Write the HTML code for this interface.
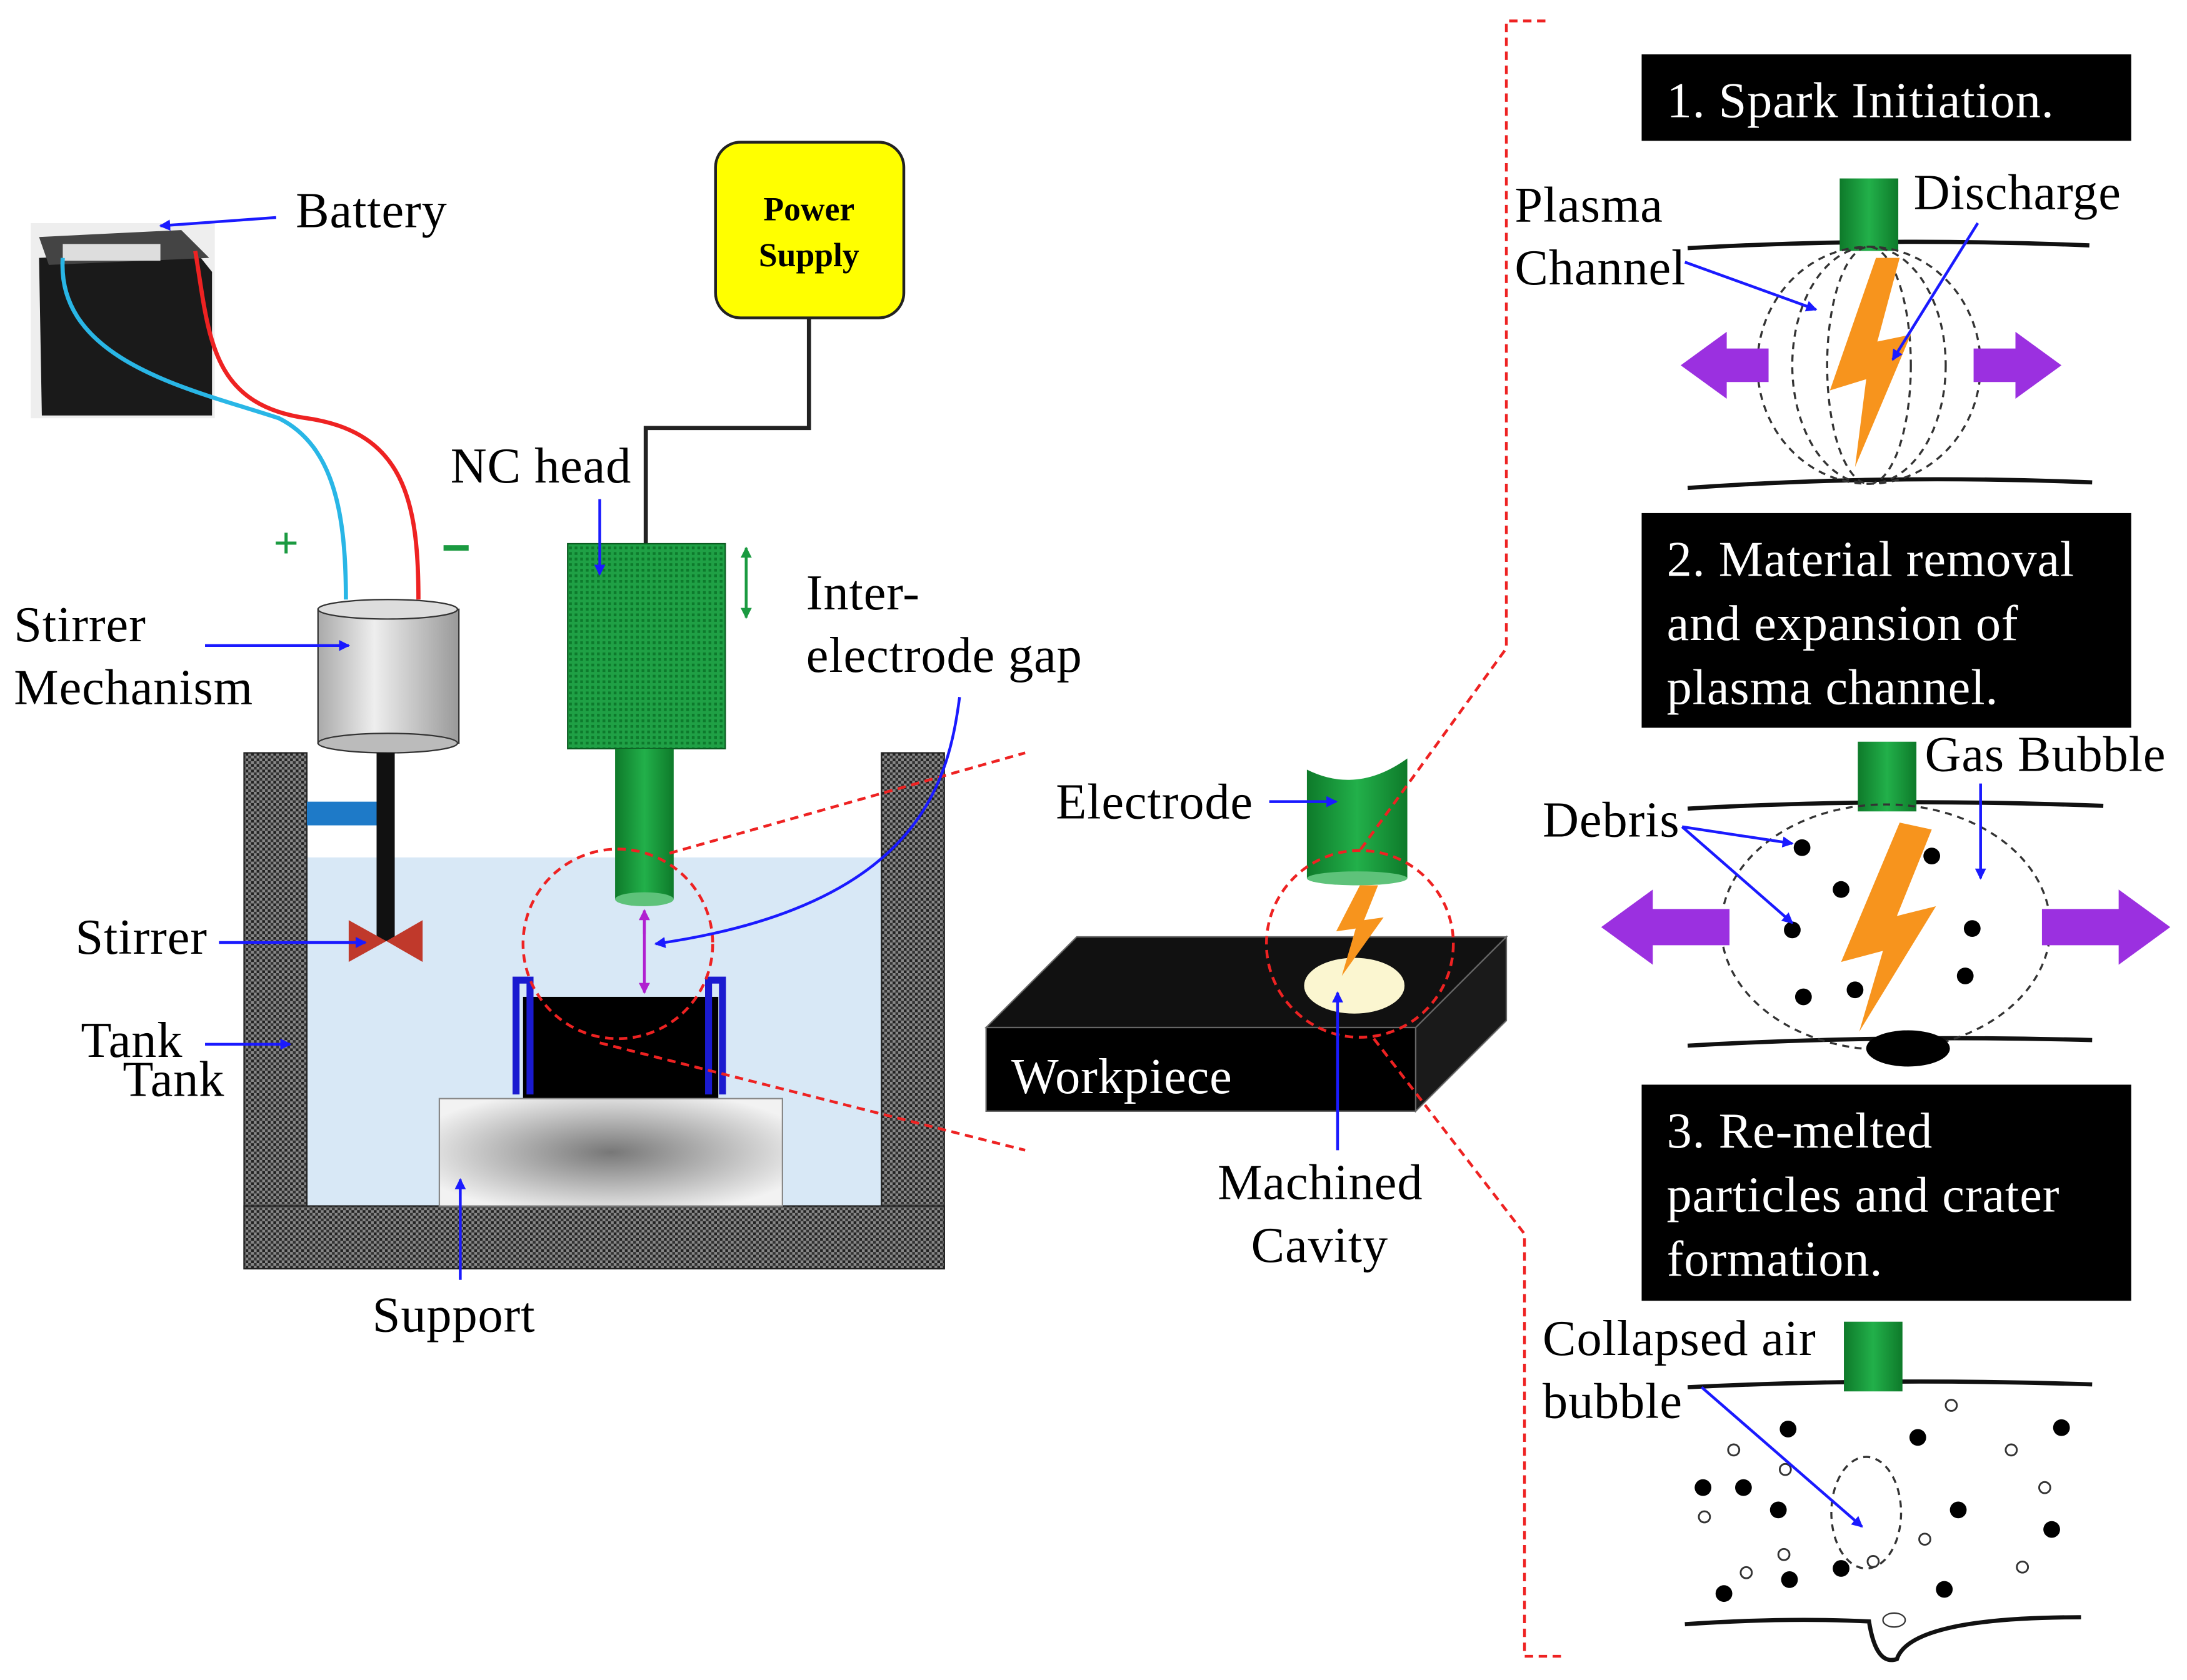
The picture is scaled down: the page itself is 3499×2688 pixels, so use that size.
<!DOCTYPE html>
<html><head><meta charset="utf-8"><style>
html,body{margin:0;padding:0;background:#fff;}
svg{display:block;}
text{font-family:"Liberation Serif",serif;}
.l{font-size:36px;letter-spacing:0.4px;}
</style></head><body>
<svg width="3499" height="2688" viewBox="0 0 1568 1205" preserveAspectRatio="none" xmlns="http://www.w3.org/2000/svg">
<defs>
<pattern id="hatch" width="4" height="4" patternUnits="userSpaceOnUse"><rect width="4" height="4" fill="#888"/><rect width="2" height="2" fill="#222"/><rect x="2" y="2" width="2" height="2" fill="#333"/></pattern>
<pattern id="grn" width="4" height="4" patternUnits="userSpaceOnUse"><rect width="4" height="4" fill="#1fa045"/><rect width="2" height="2" fill="#0d7a2c"/></pattern>
<radialGradient id="sup" cx="0.5" cy="0.5" r="0.6"><stop offset="0" stop-color="#777"/><stop offset="1" stop-color="#f2f2f2"/></radialGradient>
<linearGradient id="cyl" x1="0" x2="1"><stop offset="0" stop-color="#aaa"/><stop offset="0.4" stop-color="#eee"/><stop offset="1" stop-color="#999"/></linearGradient>
<linearGradient id="ecyl" x1="0" x2="1"><stop offset="0" stop-color="#0e7a2a"/><stop offset="0.5" stop-color="#22b04a"/><stop offset="1" stop-color="#0e7a2a"/></linearGradient>
<marker id="ab" markerWidth="8" markerHeight="8" refX="7" refY="4" orient="auto" markerUnits="userSpaceOnUse"><path d="M0,0 L8,4 L0,8 z" fill="#1a1aff"/></marker>
<marker id="ap" markerWidth="8" markerHeight="8" refX="7" refY="4" orient="auto" markerUnits="userSpaceOnUse"><path d="M0,0 L8,4 L0,8 z" fill="#b020d0"/></marker>
<marker id="ag" markerWidth="8" markerHeight="8" refX="7" refY="4" orient="auto" markerUnits="userSpaceOnUse"><path d="M0,0 L8,4 L0,8 z" fill="#1a9a40"/></marker>
</defs>
<rect width="1568" height="1205" fill="#fff"/>

<!-- Battery -->
<rect x="22" y="160" width="132" height="140" fill="#eee"/>
<path d="M28,185 L140,180 L152,195 L152,298 L30,298 Z" fill="#1a1a1a"/>
<path d="M28,170 L130,165 L150,185 L35,190 Z" fill="#444"/>
<rect x="45" y="175" width="70" height="12" fill="#ddd"/>
<path d="M45,185 C40,260 140,280 200,300 C240,320 248,370 248,430" fill="none" stroke="#29b6e6" stroke-width="3"/>
<path d="M140,180 C150,240 150,290 220,300 C290,310 300,360 300,430" fill="none" stroke="#e22" stroke-width="3"/>
<text x="196" y="400" font-size="32" font-weight="bold" fill="#1a9a40" font-family="Liberation Sans,sans-serif">+</text>
<rect x="318" y="391" width="18" height="4" fill="#1a9a40"/>
<text class="l" x="212" y="163">Battery</text>
<line x1="198" y1="156" x2="115" y2="162" stroke="#1a1aff" stroke-width="2" marker-end="url(#ab)"/>

<!-- Power supply -->
<rect x="513" y="102" width="135" height="126" rx="18" fill="#ffff00" stroke="#222" stroke-width="2"/>
<text x="580" y="158" font-size="24" font-weight="bold" text-anchor="middle">Power</text>
<text x="580" y="191" font-size="24" font-weight="bold" text-anchor="middle">Supply</text>
<polyline points="580,228 580,307 463,307 463,390" fill="none" stroke="#222" stroke-width="3"/>

<!-- Tank -->
<rect x="220" y="615" width="412" height="250" fill="#d8e8f6"/>
<rect x="175" y="540" width="45" height="370" fill="url(#hatch)" stroke="#222"/>
<rect x="632" y="540" width="45" height="370" fill="url(#hatch)" stroke="#222"/>
<rect x="175" y="865" width="502" height="45" fill="url(#hatch)" stroke="#222"/>

<!-- Stirrer -->
<rect x="228" y="437" width="101" height="96" fill="url(#cyl)" stroke="#333"/>
<ellipse cx="278" cy="437" rx="50" ry="7" fill="#ddd" stroke="#333"/>
<ellipse cx="278" cy="533" rx="50" ry="7" fill="#bbb" stroke="#333"/>
<rect x="220" y="575" width="50" height="17" fill="#1e7ac8"/>
<rect x="270" y="540" width="13" height="135" fill="#111"/>
<path d="M250,660 L277,675 L250,690 Z M303,660 L277,675 L303,690 Z" fill="#c0392b"/>

<!-- NC head -->
<rect x="407" y="390" width="113" height="147" fill="url(#grn)" stroke="#0a5a20"/>
<rect x="441" y="537" width="42" height="108" fill="url(#ecyl)"/>
<ellipse cx="462" cy="645" rx="21" ry="5" fill="#5ec27a"/>
<line x1="535" y1="398" x2="535" y2="443" stroke="#1a9a40" stroke-width="2" marker-end="url(#ag)"/>
<line x1="535" y1="436" x2="535" y2="393" stroke="#1a9a40" stroke-width="2" marker-end="url(#ag)"/>
<line x1="462" y1="670" x2="462" y2="653" stroke="#b020d0" stroke-width="2" marker-end="url(#ap)"/>
<line x1="462" y1="660" x2="462" y2="712" stroke="#b020d0" stroke-width="2" marker-end="url(#ap)"/>

<!-- Workpiece in tank -->
<rect x="375" y="715" width="140" height="73" fill="#000"/>
<path d="M370,785 L370,703 L380,703 L380,785" fill="none" stroke="#1a1ad0" stroke-width="5"/>
<path d="M518,785 L518,703 L508,703 L508,785" fill="none" stroke="#1a1ad0" stroke-width="5"/>
<rect x="315" y="788" width="246" height="77" fill="url(#sup)" stroke="#888"/>

<circle cx="443" cy="677" r="68" fill="none" stroke="#e22" stroke-width="2" stroke-dasharray="6,4"/>
<line x1="480" y1="612" x2="735" y2="540" stroke="#e22" stroke-width="2" stroke-dasharray="6,4"/>
<line x1="430" y1="748" x2="735" y2="825" stroke="#e22" stroke-width="2" stroke-dasharray="6,4"/>

<!-- Left labels -->
<text class="l" x="323" y="346">NC head</text>
<line x1="430" y1="358" x2="430" y2="412" stroke="#1a1aff" stroke-width="2" marker-end="url(#ab)"/>
<text class="l" x="10" y="460">Stirrer</text>
<text class="l" x="10" y="505">Mechanism</text>
<line x1="147" y1="463" x2="250" y2="463" stroke="#1a1aff" stroke-width="2" marker-end="url(#ab)"/>
<text class="l" x="54" y="684">Stirrer</text>
<line x1="157" y1="676" x2="262" y2="676" stroke="#1a1aff" stroke-width="2" marker-end="url(#ab)"/>
<text class="l" x="58" y="758">Tank</text>
<text class="l" x="88" y="786">Tank</text>
<line x1="147" y1="749" x2="208" y2="749" stroke="#1a1aff" stroke-width="2" marker-end="url(#ab)"/>
<text class="l" x="578" y="437">Inter-</text>
<text class="l" x="578" y="482">electrode gap</text>
<path d="M688,500 C680,560 660,650 470,677" fill="none" stroke="#1a1aff" stroke-width="2" marker-end="url(#ab)"/>
<text class="l" x="267" y="955">Support</text>
<line x1="330" y1="918" x2="330" y2="846" stroke="#1a1aff" stroke-width="2" marker-end="url(#ab)"/>

<!-- Middle workpiece -->
<path d="M707,737 L772,672 L1080,672 L1015,737 Z" fill="#111" stroke="#666"/>
<rect x="707" y="737" width="308" height="60" fill="#000" stroke="#666"/>
<path d="M1015,737 L1080,672 L1080,732 L1015,797 Z" fill="#1a1a1a" stroke="#666"/>
<text class="l" x="725" y="784" fill="#fff">Workpiece</text>
<ellipse cx="971" cy="707" rx="36" ry="20" fill="#fbf6d0"/>
<path d="M937,552 Q973,570 1009,544 L1009,630 L937,630 Z" fill="url(#ecyl)"/>
<ellipse cx="973" cy="630" rx="36" ry="5" fill="#5ec27a"/>
<path d="M975,635 L958,668 L972,666 L962,700 L992,658 L978,660 L988,635 Z" fill="#f7941d"/>
<circle cx="975" cy="677" r="67" fill="none" stroke="#e22" stroke-width="2" stroke-dasharray="6,4"/>
<text class="l" x="757" y="587">Electrode</text>
<line x1="910" y1="575" x2="958" y2="575" stroke="#1a1aff" stroke-width="2" marker-end="url(#ab)"/>
<text class="l" x="873" y="860">Machined</text>
<text class="l" x="897" y="905">Cavity</text>
<line x1="959" y1="825" x2="959" y2="712" stroke="#1a1aff" stroke-width="2" marker-end="url(#ab)"/>

<!-- Red bracket -->
<polyline points="1108,15 1080,15 1080,465 975,610" fill="none" stroke="#e22" stroke-width="2" stroke-dasharray="6,4"/>
<polyline points="985,745 1093,885 1093,1188 1122,1188" fill="none" stroke="#e22" stroke-width="2" stroke-dasharray="6,4"/>

<!-- Right panel boxes -->
<rect x="1177" y="39" width="351" height="62" fill="#000"/>
<text class="l" x="1195" y="84" fill="#fff">1. Spark Initiation.</text>
<rect x="1177" y="368" width="351" height="154" fill="#000"/>
<text class="l" x="1195" y="413" fill="#fff">2. Material removal</text>
<text class="l" x="1195" y="459" fill="#fff">and expansion of</text>
<text class="l" x="1195" y="505" fill="#fff">plasma channel.</text>
<rect x="1177" y="778" width="351" height="155" fill="#000"/>
<text class="l" x="1195" y="823" fill="#fff">3. Re-melted</text>
<text class="l" x="1195" y="869" fill="#fff">particles and crater</text>
<text class="l" x="1195" y="915" fill="#fff">formation.</text>

<!-- Panel 1 -->
<path d="M1210,178 Q1350,170 1498,176" fill="none" stroke="#111" stroke-width="3"/>
<path d="M1210,350 Q1350,340 1500,346" fill="none" stroke="#111" stroke-width="3"/>
<rect x="1319" y="128" width="42" height="52" fill="url(#ecyl)"/>
<g fill="none" stroke="#333" stroke-dasharray="5,4" stroke-width="1.5">
<ellipse cx="1340" cy="262" rx="80" ry="85"/>
<ellipse cx="1340" cy="262" rx="55" ry="85"/>
<ellipse cx="1340" cy="262" rx="30" ry="85"/>
</g>
<path d="M1345,185 L1312,280 L1338,272 L1330,335 L1370,240 L1346,245 L1362,185 Z" fill="#f7941d"/>
<path d="M1205,262 L1238,238 L1238,250 L1268,250 L1268,274 L1238,274 L1238,286 Z" fill="#9b30e0"/>
<path d="M1478,262 L1445,238 L1445,250 L1415,250 L1415,274 L1445,274 L1445,286 Z" fill="#9b30e0"/>
<text class="l" x="1086" y="159">Plasma</text>
<text class="l" x="1086" y="204">Channel</text>
<text class="l" x="1372" y="150">Discharge</text>
<line x1="1208" y1="188" x2="1302" y2="222" stroke="#1a1aff" stroke-width="2" marker-end="url(#ab)"/>
<line x1="1418" y1="160" x2="1357" y2="258" stroke="#1a1aff" stroke-width="2" marker-end="url(#ab)"/>

<!-- Panel 2 -->
<path d="M1210,580 Q1350,572 1508,578" fill="none" stroke="#111" stroke-width="3"/>
<path d="M1210,750 Q1350,742 1500,746" fill="none" stroke="#111" stroke-width="3"/>
<rect x="1332" y="532" width="42" height="50" fill="url(#ecyl)"/>
<ellipse cx="1352" cy="665" rx="118" ry="88" fill="none" stroke="#333" stroke-dasharray="5,4" stroke-width="1.5"/>
<ellipse cx="1368" cy="752" rx="30" ry="13" fill="#000"/>
<path d="M1362,590 L1320,690 L1350,682 L1333,740 L1388,650 L1360,657 L1385,595 Z" fill="#f7941d"/>
<path d="M1148,665 L1185,638 L1185,652 L1240,652 L1240,678 L1185,678 L1185,692 Z" fill="#9b30e0"/>
<path d="M1556,665 L1519,638 L1519,652 L1464,652 L1464,678 L1519,678 L1519,692 Z" fill="#9b30e0"/>
<g fill="#000">
<circle cx="1292" cy="608" r="6"/><circle cx="1385" cy="614" r="6"/><circle cx="1320" cy="638" r="6"/>
<circle cx="1285" cy="667" r="6"/><circle cx="1414" cy="666" r="6"/><circle cx="1409" cy="700" r="6"/>
<circle cx="1293" cy="715" r="6"/><circle cx="1330" cy="710" r="6"/>
</g>
<text class="l" x="1106" y="600">Debris</text>
<text class="l" x="1380" y="553">Gas Bubble</text>
<line x1="1206" y1="593" x2="1285" y2="605" stroke="#1a1aff" stroke-width="2" marker-end="url(#ab)"/>
<line x1="1206" y1="593" x2="1285" y2="662" stroke="#1a1aff" stroke-width="2" marker-end="url(#ab)"/>
<line x1="1420" y1="562" x2="1420" y2="630" stroke="#1a1aff" stroke-width="2" marker-end="url(#ab)"/>

<!-- Panel 3 -->
<path d="M1210,995 Q1350,988 1500,993" fill="none" stroke="#111" stroke-width="3"/>
<path d="M1208,1165 Q1280,1160 1340,1163 Q1345,1195 1360,1190 Q1370,1160 1492,1160" fill="none" stroke="#111" stroke-width="3"/>
<rect x="1322" y="948" width="42" height="50" fill="url(#ecyl)"/>
<ellipse cx="1338" cy="1085" rx="25" ry="40" fill="none" stroke="#333" stroke-dasharray="5,4" stroke-width="1.5"/>
<ellipse cx="1358" cy="1162" rx="8" ry="5" fill="none" stroke="#333"/>
<g fill="#000">
<circle cx="1282" cy="1025" r="6"/><circle cx="1375" cy="1031" r="6"/><circle cx="1478" cy="1024" r="6"/>
<circle cx="1221" cy="1067" r="6"/><circle cx="1250" cy="1067" r="6"/><circle cx="1275" cy="1083" r="6"/>
<circle cx="1404" cy="1083" r="6"/><circle cx="1471" cy="1097" r="6"/><circle cx="1320" cy="1125" r="6"/>
<circle cx="1236" cy="1143" r="6"/><circle cx="1283" cy="1133" r="6"/><circle cx="1394" cy="1140" r="6"/>
</g>
<g fill="none" stroke="#333" stroke-width="1.3">
<circle cx="1243" cy="1040" r="4"/><circle cx="1399" cy="1008" r="4"/><circle cx="1442" cy="1040" r="4"/>
<circle cx="1222" cy="1088" r="4"/><circle cx="1280" cy="1054" r="4"/><circle cx="1466" cy="1067" r="4"/>
<circle cx="1279" cy="1115" r="4"/><circle cx="1380" cy="1104" r="4"/><circle cx="1450" cy="1124" r="4"/>
<circle cx="1252" cy="1128" r="4"/><circle cx="1343" cy="1120" r="4"/>
</g>
<text class="l" x="1106" y="972">Collapsed air</text>
<text class="l" x="1106" y="1017">bubble</text>
<line x1="1220" y1="995" x2="1335" y2="1095" stroke="#1a1aff" stroke-width="2" marker-end="url(#ab)"/>
</svg>
</body></html>
